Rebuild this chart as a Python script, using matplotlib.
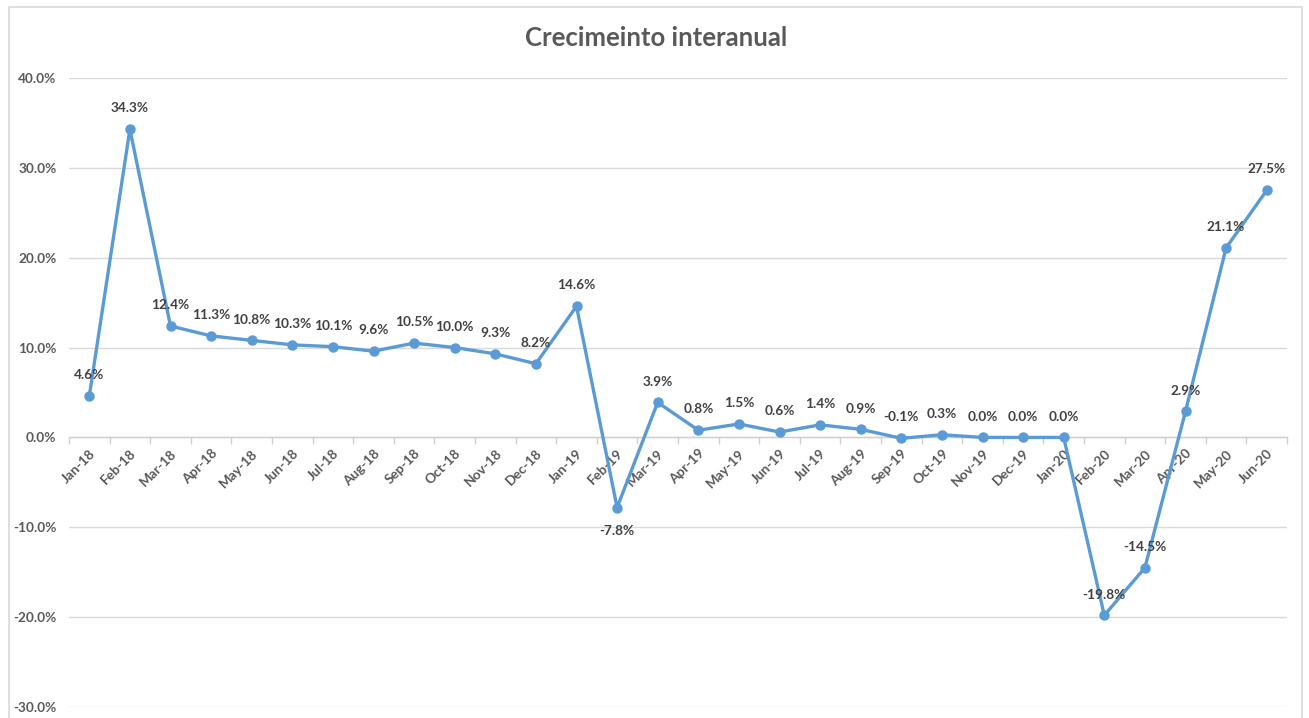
import matplotlib
matplotlib.use("Agg")
import matplotlib.pyplot as plt
from matplotlib.patches import Rectangle
from matplotlib.ticker import FixedLocator, FuncFormatter

months = ["Jan-18", "Feb-18", "Mar-18", "Apr-18", "May-18", "Jun-18", "Jul-18", "Aug-18",
          "Sep-18", "Oct-18", "Nov-18", "Dec-18", "Jan-19", "Feb-19", "Mar-19", "Apr-19",
          "May-19", "Jun-19", "Jul-19", "Aug-19", "Sep-19", "Oct-19", "Nov-19", "Dec-19",
          "Jan-20", "Feb-20", "Mar-20", "Apr-20", "May-20", "Jun-20"]
growth = [4.6, 34.3, 12.4, 11.3, 10.8, 10.3, 10.1, 9.6, 10.5, 10.0, 9.3, 8.2, 14.6, -7.8,
          3.9, 0.8, 1.5, 0.6, 1.4, 0.9, -0.1, 0.3, 0.0, 0.0, 0.0, -19.8, -14.5, 2.9, 21.1, 27.5]
y_ticks = [-30, -20, -10, 0, 10, 20, 30, 40]
title = "Crecimeinto interanual"

plt.rcParams['font.family'] = ['Lato', 'DejaVu Sans']

fig = plt.figure(figsize=(13.09, 7.18), dpi=100)
fig.patches.append(Rectangle((9 / 1309, -0.05), (1302 - 9) / 1309, 1.05 - 7 / 718,
                             transform=fig.transFigure, fill=False,
                             edgecolor="#d9d9d9", linewidth=1.2))

ax = fig.add_axes([69 / 1309, 11 / 718, (1287 - 69) / 1309, (707 - 78) / 718])
x = list(range(len(months)))
ax.plot(x, growth, color="#5B9BD5", linewidth=2.4, marker="o", markersize=6.5,
        solid_joinstyle="round", zorder=3, clip_on=False)

ax.set_xlim(-0.5, len(months) - 0.5)
ax.set_ylim(min(y_ticks), max(y_ticks))
ax.yaxis.set_major_locator(FixedLocator(y_ticks))
ax.yaxis.set_major_formatter(FuncFormatter(lambda v, p: f"{v:.1f}%"))
ax.yaxis.grid(True, color="#d9d9d9", linewidth=1.0)
ax.set_axisbelow(True)

for s in ["top", "right", "left"]:
    ax.spines[s].set_visible(False)
ax.spines["bottom"].set_position(("data", 0))
ax.spines["bottom"].set_color("#d0d0d0")
ax.spines["bottom"].set_linewidth(1.0)

ax.set_xticks(x)
ax.set_xticklabels(months, rotation=45, ha="right", rotation_mode="anchor")
ax.set_xticks([i - 0.5 for i in range(len(months) + 1)], minor=True)
ax.tick_params(axis="x", which="major", length=0, pad=7, labelsize=9.8,
               labelcolor="#595959")
ax.tick_params(axis="x", which="minor", length=5, width=1.0, color="#d0d0d0",
               direction="out")
for lbl in ax.get_xticklabels():
    lbl.set_fontweight("bold")
ax.tick_params(axis="y", length=0, pad=9, labelsize=9.8, labelcolor="#595959")
for lbl in ax.get_yticklabels():
    lbl.set_fontweight("bold")

for xi, v in zip(x, growth):
    off = -17 if v == -7.8 else 15
    ax.annotate(f"{v:.1f}%", (xi, v), xytext=(0, off), textcoords="offset points",
                ha="center", va="center", fontsize=9.8, fontweight="bold",
                color="#404040", zorder=4)

fig.text(656 / 1309, 1 - 38 / 718, title, ha="center", va="center",
         fontsize=18.5, fontweight="bold", color="#595959")

fig.savefig("out.png", dpi=100)
